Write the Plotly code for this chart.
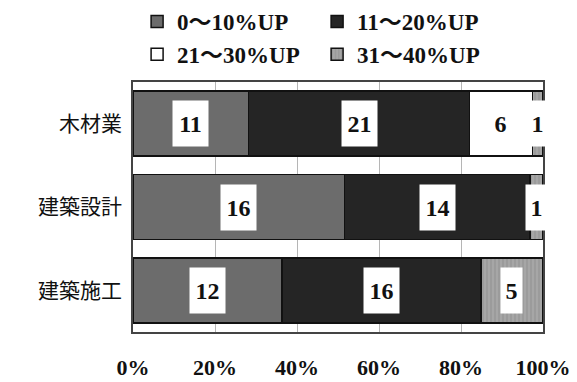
import plotly.graph_objects as go

categories = ["木材業", "建築設計", "建築施工"]
series_names = ["0～10%UP", "11～20%UP", "21～30%UP", "31～40%UP"]
s_0_10 = [11, 16, 12]
s_11_20 = [21, 14, 16]
s_21_30 = [6, 0, 0]
s_31_40 = [1, 1, 5]
tick_vals = [0, 0.2, 0.4, 0.6, 0.8, 1.0]
tick_text = ["0%", "20%", "40%", "60%", "80%", "100%"]

series = [s_0_10, s_11_20, s_21_30, s_31_40]
colors = ["#6c6c6c", "#252525", "#ffffff", "#a6a6a6"]
patterns = [dict(shape=""), dict(shape=""), dict(shape=""),
            dict(shape="|", fgcolor="#7a7a7a", size=4, solidity=0.25)]

SERIF = "Liberation Serif, Noto Sans CJK JP, serif"

fig = go.Figure()
for name, vals, col, pat in zip(series_names, series, colors, patterns):
    fig.add_trace(go.Bar(
        y=categories, x=vals, name=name, orientation="h",
        marker=dict(color=col, line=dict(color="#111111", width=1.5), pattern=pat),
        hoverinfo="skip",
    ))

# value labels in white boxes, centred in each segment
totals = [sum(s[i] for s in series) for i in range(len(categories))]
for i, cat in enumerate(categories):
    cum = 0
    for vals in series:
        v = vals[i]
        if v > 0:
            centre = (cum + v / 2) / totals[i]
            fig.add_annotation(
                x=centre, y=cat, text=f"<b>{v}</b>", showarrow=False,
                font=dict(family=SERIF, size=24, color="#111111"),
                bgcolor="#ffffff", borderpad=4,
                width=14 * len(str(v)) - 1, height=37,
            )
        cum += v

fig.update_layout(
    barmode="stack", barnorm="fraction", bargap=0.22,
    width=577, height=382,
    margin=dict(l=133, r=34, t=82, b=50, autoexpand=False),
    paper_bgcolor="white", plot_bgcolor="white",
    showlegend=True,
    legend=dict(
        orientation="h", x=0.01, xanchor="left", y=1.0, yanchor="top",
        yref="container",
        entrywidth=135, entrywidthmode="pixels",
        font=dict(family=SERIF, size=23, color="#111111", weight="bold"),
        itemwidth=30, traceorder="normal", tracegroupgap=0,
    ),
    xaxis=dict(
        range=[0, 1], tickvals=tick_vals, ticktext=tick_text,
        showgrid=True, gridcolor="#b5b5b5", gridwidth=1,
        showline=True, linecolor="#444444", linewidth=1.5, mirror=True,
        zeroline=False, ticks="",
        tickfont=dict(family=SERIF, size=22, color="#111111", weight="bold"),
        ticklabelstandoff=15,
    ),
    yaxis=dict(
        autorange="reversed", showline=True, linecolor="#444444", linewidth=1.5,
        mirror=True, ticks="",
        tickfont=dict(family=SERIF, size=21, color="#111111"),
        ticklabelstandoff=5,
    ),
)

# remove the browser's default 8px page margin so the figure fills the window
fig.write_html(
    "out.html",
    config={"displayModeBar": False},
    post_script="document.body.style.margin='0';",
)
